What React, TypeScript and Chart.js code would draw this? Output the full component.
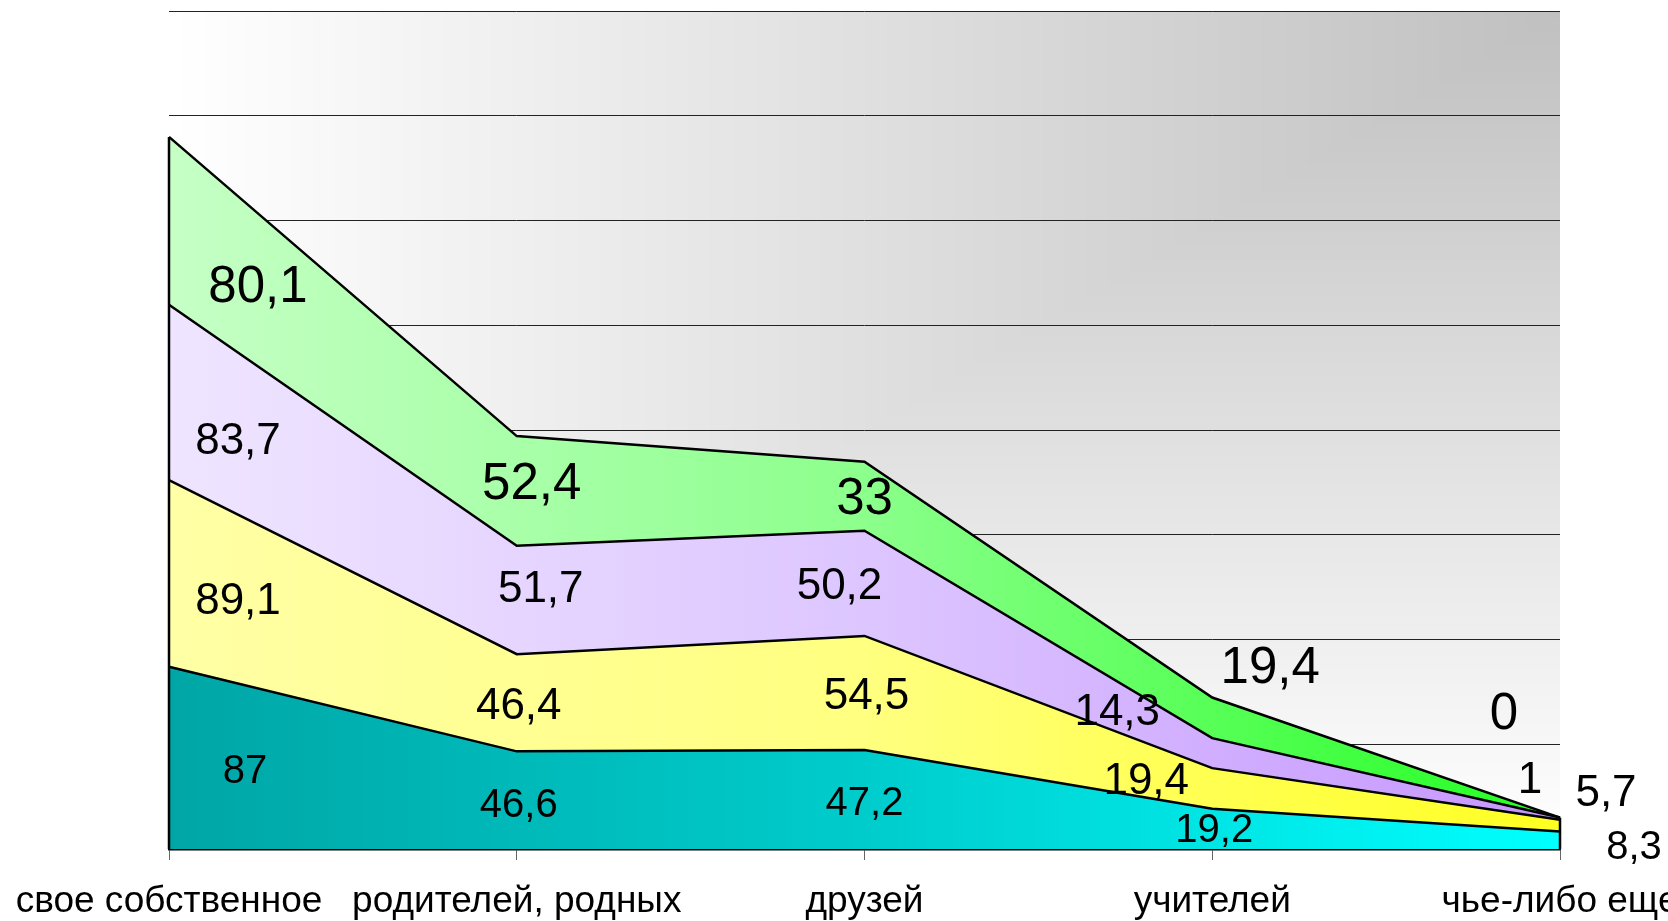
import React, { useEffect, useRef } from "react";
import { Chart, registerables } from "chart.js";

Chart.register(...registerables);

// ---- data ----
const categories = ["свое собственное", "родителей, родных", "друзей", "учителей", "чье-либо еще"];
const seriesTeal = [87, 46.6, 47.2, 19.2, 8.3];
const seriesYellow = [89.1, 46.4, 54.5, 19.4, 5.7];
const seriesLavender = [83.7, 51.7, 50.2, 14.3, 1];
const seriesGreen = [80.1, 52.4, 33, 19.4, 0];
const yMax = 400;
const yStep = 50;

// ---- styling / label layout (pixel offsets from band middle) ----
const FONT = "'Liberation Sans', Arial, sans-serif";
const labelSizes = [40, 44, 44, 51];
const labelOffsets: number[][][] = [
  [[76, 11], [2, 2], [0, 1], [2, -1], [74, 4]],
  [[69, 25], [2, 0], [2, 0], [-66, -10], [46, -35]],
  [[69, 46], [24, -14], [-25, 0], [-95, -44], [-30, -41]],
  [[89, 63], [15, -10], [0, 0], [58, -53], [-56, -107]],
];
const fillStops = [
  ["#00a6a6", "#00cccc", "#00ffff"],
  ["#ffffa6", "#ffff80", "#ffff22"],
  ["#efe5ff", "#ddc6ff", "#c596ff"],
  ["#c6ffc6", "#8cff8c", "#22ff22"],
];

function grad(stops: string[]) {
  return (ctx: any) => {
    const chart = ctx.chart;
    const a = chart.chartArea;
    if (!a) return stops[0];
    const g = chart.ctx.createLinearGradient(a.left, 0, a.right, 0);
    stops.forEach((c, i) => g.addColorStop(i / (stops.length - 1), c));
    return g;
  };
}

const bgPlugin = {
  id: "bgGradient",
  beforeDraw(chart: any) {
    const { ctx, chartArea: a, width, height } = chart;
    ctx.save();
    ctx.fillStyle = "#ffffff";
    ctx.fillRect(0, 0, width, height);
    if (a) {
      const w = Math.round(a.right - a.left);
      const h = Math.round(a.bottom - a.top);
      const img = ctx.createImageData(w, h);
      const d = img.data;
      for (let y = 0; y < h; y++) {
        const ty = 1 - y / h;
        for (let x = 0; x < w; x++) {
          const t = Math.min(x / w, ty);
          const c = Math.round(255 - t * (255 - 192));
          const i = (y * w + x) * 4;
          d[i] = c; d[i + 1] = c; d[i + 2] = c; d[i + 3] = 255;
        }
      }
      ctx.putImageData(img, Math.round(a.left), Math.round(a.top));
    }
    ctx.restore();
  },
};

const allSeries = [seriesTeal, seriesYellow, seriesLavender, seriesGreen];

const overlayPlugin = {
  id: "overlay",
  afterDatasetsDraw(chart: any) {
    const { ctx } = chart;
    const xs = chart.scales.x;
    const ys = chart.scales.y;
    ctx.save();
    // vertical edges of the stacked area
    const edgeIdx = [0, categories.length - 1];
    ctx.strokeStyle = "#000";
    ctx.lineWidth = 2.5;
    edgeIdx.forEach((i) => {
      let total = 0;
      allSeries.forEach((s) => (total += s[i]));
      const x = xs.getPixelForValue(i);
      ctx.beginPath();
      ctx.moveTo(x, ys.getPixelForValue(0));
      ctx.lineTo(x, ys.getPixelForValue(total));
      ctx.stroke();
    });
    // data labels
    ctx.fillStyle = "#000";
    ctx.textAlign = "center";
    ctx.textBaseline = "alphabetic";
    for (let i = 0; i < categories.length; i++) {
      let cum = 0;
      allSeries.forEach((s, si) => {
        const v = s[i];
        const yb = ys.getPixelForValue(cum);
        const yt = ys.getPixelForValue(cum + v);
        cum += v;
        const size = labelSizes[si];
        const [dx, dy] = labelOffsets[si][i];
        const x = xs.getPixelForValue(i) + dx;
        const y = (yb + yt) / 2 + dy + size * 0.358;
        ctx.font = `${size}px ${FONT}`;
        ctx.fillText(String(v).replace(".", ","), x, y);
      });
    }
    ctx.restore();
  },
};

export default function App() {
  const ref = useRef<HTMLCanvasElement>(null);
  useEffect(() => {
    const chart = new Chart(ref.current!, {
      type: "line",
      data: {
        labels: categories,
        datasets: allSeries.map((s, si) => ({
          data: s,
          fill: si === 0 ? "origin" : "-1",
          backgroundColor: grad(fillStops[si]),
          borderColor: "#000",
          borderWidth: 2.5,
          pointRadius: 0,
          tension: 0,
        })),
      },
      options: {
        animation: false,
        responsive: false,
        devicePixelRatio: 1,
        layout: { padding: { left: 169, right: 108, top: 11, bottom: 0 } },
        plugins: { legend: { display: false }, tooltip: { enabled: false } },
        scales: {
          x: {
            type: "category",
            offset: false,
            grid: { display: true, drawOnChartArea: false, drawTicks: true, tickLength: 11, color: "#666", lineWidth: 1 },
            border: { display: true, color: "#000", width: 2.5 },
            ticks: {
              font: { family: FONT, size: 37 },
              color: "#000",
              padding: 20,
              maxRotation: 0,
              minRotation: 0,
              autoSkip: false,
            },
            afterFit: (scale: any) => {
              scale.height = 72;
              scale.paddingLeft = 0;
              scale.paddingRight = 0;
            },
          },
          y: {
            stacked: true,
            min: 0,
            max: yMax,
            ticks: { display: false, stepSize: yStep },
            grid: { color: "#222", lineWidth: 1, drawTicks: false },
            border: { display: false },
            afterFit: (scale: any) => {
              scale.width = 0;
            },
          },
        },
      },
      plugins: [bgPlugin, overlayPlugin],
    });
    return () => chart.destroy();
  }, []);
  return (
    <div style={{ position: "absolute", left: 0, top: 0, width: 1668, height: 921, background: "#fff" }}>
      <canvas ref={ref} width={1668} height={921} style={{ display: "block" }} />
    </div>
  );
}
